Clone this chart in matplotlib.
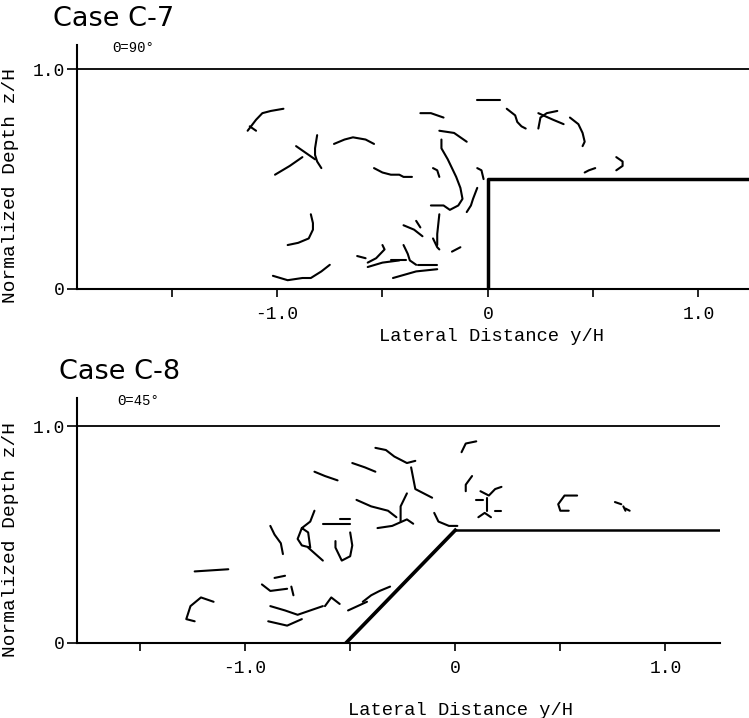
import matplotlib
matplotlib.use("Agg")
import matplotlib.pyplot as plt

MONO = "Liberation Mono"

# Case C-7 (vertical step, theta = 90 deg): particle paths as (y/H, z/H)
c7_paths = [
    [(-0.97, 0.82), (-1.03, 0.81), (-1.07, 0.80), (-1.10, 0.77), (-1.14, 0.72)],
    [(-1.13, 0.74), (-1.10, 0.72)],
    [(-0.91, 0.65), (-0.82, 0.59)],
    [(-0.81, 0.70), (-0.82, 0.64), (-0.82, 0.61), (-0.81, 0.58), (-0.79, 0.55)],
    [(-0.88, 0.60), (-0.94, 0.56), (-1.01, 0.52)],
    [(-0.73, 0.66), (-0.68, 0.68), (-0.64, 0.69), (-0.58, 0.68), (-0.54, 0.66)],
    [(-0.54, 0.55), (-0.50, 0.53), (-0.46, 0.52), (-0.42, 0.52), (-0.40, 0.51), (-0.36, 0.51)],
    [(-0.84, 0.34), (-0.83, 0.30), (-0.83, 0.27), (-0.85, 0.23), (-0.90, 0.21), (-0.95, 0.20)],
    [(-1.02, 0.06), (-0.95, 0.04), (-0.88, 0.05), (-0.84, 0.05), (-0.79, 0.08), (-0.75, 0.11)],
    [(-0.62, 0.15), (-0.58, 0.14)],
    [(-0.57, 0.12), (-0.53, 0.14), (-0.49, 0.18), (-0.50, 0.20)],
    [(-0.57, 0.10), (-0.50, 0.12), (-0.42, 0.13)],
    [(-0.05, 0.86), (0.06, 0.86)],
    [(-0.32, 0.80), (-0.27, 0.80), (-0.21, 0.78)],
    [(0.09, 0.82), (0.13, 0.79), (0.14, 0.76), (0.16, 0.74), (0.18, 0.73)],
    [(0.24, 0.73), (0.25, 0.78), (0.28, 0.80), (0.33, 0.81)],
    [(0.24, 0.80), (0.31, 0.77), (0.36, 0.75)],
    [(0.39, 0.78), (0.43, 0.75), (0.45, 0.71), (0.46, 0.67), (0.45, 0.65)],
    [(-0.23, 0.72), (-0.16, 0.71), (-0.10, 0.67)],
    [(-0.22, 0.68), (-0.22, 0.64), (-0.19, 0.59), (-0.17, 0.55), (-0.15, 0.51), (-0.13, 0.46),
     (-0.12, 0.41), (-0.14, 0.38), (-0.18, 0.36), (-0.21, 0.38), (-0.27, 0.38)],
    [(-0.26, 0.55), (-0.24, 0.54), (-0.23, 0.51)],
    [(-0.05, 0.55), (-0.03, 0.54), (-0.02, 0.50)],
    [(-0.05, 0.46), (-0.07, 0.41), (-0.08, 0.38), (-0.10, 0.35)],
    [(-0.23, 0.34), (-0.24, 0.25), (-0.24, 0.20)],
    [(-0.40, 0.29), (-0.35, 0.27), (-0.31, 0.24)],
    [(-0.34, 0.31), (-0.32, 0.28)],
    [(-0.26, 0.23), (-0.24, 0.19), (-0.23, 0.18)],
    [(-0.17, 0.17), (-0.13, 0.19)],
    [(-0.40, 0.20), (-0.38, 0.16), (-0.37, 0.13), (-0.34, 0.11)],
    [(-0.46, 0.13), (-0.39, 0.13)],
    [(-0.45, 0.05), (-0.34, 0.08), (-0.24, 0.09)],
    [(-0.33, 0.11), (-0.24, 0.11)],
    [(0.46, 0.53), (0.48, 0.54), (0.51, 0.55)],
    [(0.61, 0.60), (0.64, 0.58), (0.64, 0.56), (0.61, 0.54)],
]
c7_bed_y = [0.0, 0.0, 1.24]
c7_bed_z = [0.0, 0.5, 0.5]

# Case C-8 (sloped step, theta = 45 deg)
c8_paths = [
    [(-1.24, 0.33), (-1.08, 0.34)],
    [(-1.15, 0.19), (-1.21, 0.21), (-1.26, 0.17), (-1.28, 0.11), (-1.24, 0.10)],
    [(-0.88, 0.54), (-0.86, 0.50), (-0.83, 0.46), (-0.82, 0.41)],
    [(-0.67, 0.61), (-0.69, 0.56), (-0.73, 0.53), (-0.75, 0.48), (-0.73, 0.45),
     (-0.69, 0.44), (-0.70, 0.51), (-0.73, 0.53)],
    [(-0.70, 0.44), (-0.63, 0.38)],
    [(-0.63, 0.55), (-0.50, 0.55)],
    [(-0.50, 0.51), (-0.49, 0.45), (-0.50, 0.40), (-0.54, 0.38), (-0.57, 0.44), (-0.57, 0.47)],
    [(-0.55, 0.57), (-0.50, 0.57)],
    [(-0.92, 0.27), (-0.88, 0.24), (-0.80, 0.25)],
    [(-0.88, 0.17), (-0.81, 0.15), (-0.75, 0.13), (-0.69, 0.15), (-0.63, 0.17)],
    [(-0.89, 0.10), (-0.80, 0.08), (-0.73, 0.11)],
    [(-0.51, 0.15), (-0.42, 0.19)],
    [(-0.62, 0.17), (-0.59, 0.21), (-0.55, 0.18)],
    [(-0.86, 0.30), (-0.81, 0.31)],
    [(-0.78, 0.26), (-0.77, 0.22)],
    [(-0.44, 0.19), (-0.40, 0.22), (-0.36, 0.24), (-0.31, 0.26)],
    [(-0.67, 0.79), (-0.62, 0.77), (-0.56, 0.75)],
    [(-0.49, 0.83), (-0.43, 0.81), (-0.38, 0.79)],
    [(-0.38, 0.90), (-0.33, 0.89), (-0.29, 0.86), (-0.23, 0.83), (-0.19, 0.84)],
    [(-0.21, 0.81), (-0.19, 0.71), (-0.17, 0.70), (-0.11, 0.67)],
    [(-0.47, 0.66), (-0.40, 0.63), (-0.32, 0.61), (-0.28, 0.58)],
    [(-0.23, 0.69), (-0.26, 0.63), (-0.26, 0.56)],
    [(-0.37, 0.53), (-0.30, 0.54), (-0.23, 0.57), (-0.20, 0.55)],
    [(-0.10, 0.60), (-0.08, 0.56), (-0.03, 0.54), (0.01, 0.54)],
    [(0.03, 0.88), (0.05, 0.92), (0.10, 0.93)],
    [(0.08, 0.77), (0.05, 0.73), (0.05, 0.70)],
    [(0.12, 0.70), (0.16, 0.68), (0.19, 0.71), (0.22, 0.72)],
    [(0.10, 0.66), (0.13, 0.66)],
    [(0.15, 0.67), (0.15, 0.61)],
    [(0.11, 0.58), (0.14, 0.60), (0.17, 0.58)],
    [(0.19, 0.61), (0.22, 0.61)],
    [(0.58, 0.68), (0.52, 0.68), (0.49, 0.64), (0.50, 0.61), (0.54, 0.61)],
    [(0.76, 0.65), (0.79, 0.64)],
    [(0.80, 0.63), (0.81, 0.61)],
    [(0.81, 0.62), (0.83, 0.61)],
]
c8_bed_y = [-0.52, 0.0, 1.26]
c8_bed_z = [0.0, 0.52, 0.52]

x_ticks = [-1.5, -1.0, -0.5, 0.0, 0.5, 1.0]
x_labels = ["", "-1.0", "", "0", "", "1.0"]
z_ticks = [0.0, 1.0]
z_labels = ["0", "1.0"]


def draw_panel(ax, paths, bed_y, bed_z, xlim, zmax, slope):
    ax.set_xlim(*xlim)
    ax.set_ylim(0, zmax)
    for path in paths:
        ys, zs = zip(*path)
        ax.plot(ys, zs, color="black", lw=1.5, solid_capstyle="round")
    ax.axhline(1.0, color="black", lw=1.3)
    if slope:
        ax.plot(bed_y[:2], bed_z[:2], color="black", lw=2.6)
        ax.plot(bed_y[1:], bed_z[1:], color="black", lw=1.8)
    else:
        ax.plot(bed_y, bed_z, color="black", lw=2.5)
    for side in ("top", "right"):
        ax.spines[side].set_visible(False)
    for side in ("left", "bottom"):
        ax.spines[side].set_linewidth(1.5)
    ax.set_xticks(x_ticks)
    ax.set_xticklabels(x_labels, fontfamily=MONO, fontsize=13)
    ax.set_yticks(z_ticks)
    ax.set_yticklabels(z_labels, fontfamily=MONO, fontsize=13)
    ax.tick_params(axis="x", length=6, width=1.2, pad=6)
    ax.tick_params(axis="y", length=7, width=1.2, pad=2)
    ax.set_xlabel("Lateral Distance y/H", fontfamily=MONO, fontsize=13.5)
    ax.set_ylabel("Normalized Depth z/H", fontfamily=MONO, fontsize=14)


fig = plt.figure(figsize=(7.49, 7.18), dpi=100)
ax1 = fig.add_axes([0.1028, 0.5975, 0.8972, 0.3398])
ax2 = fig.add_axes([0.1028, 0.1045, 0.8585, 0.3412])

draw_panel(ax1, c7_paths, c7_bed_y, c7_bed_z, (-1.95, 1.24), 1.11, slope=False)
draw_panel(ax2, c8_paths, c8_bed_y, c8_bed_z, (-1.80, 1.26), 1.13, slope=True)

ax1.xaxis.set_label_coords(0.617, -0.16)
ax2.xaxis.set_label_coords(0.596, -0.24)
ax1.yaxis.set_label_coords(-0.086, 0.426)
ax2.yaxis.set_label_coords(-0.090, 0.424)

fig.text(0.152, 0.9735, "Case C-7", fontsize=19.5, family="DejaVu Sans",
         ha="center", va="center")
fig.text(0.178, 0.933, "Θ=90°", fontsize=10, family=MONO, ha="center", va="center")
fig.text(0.160, 0.482, "Case C-8", fontsize=19.5, family="DejaVu Sans",
         ha="center", va="center")
fig.text(0.184, 0.441, "Θ=45°", fontsize=10, family=MONO, ha="center", va="center")

fig.savefig("out.png", dpi=100)
